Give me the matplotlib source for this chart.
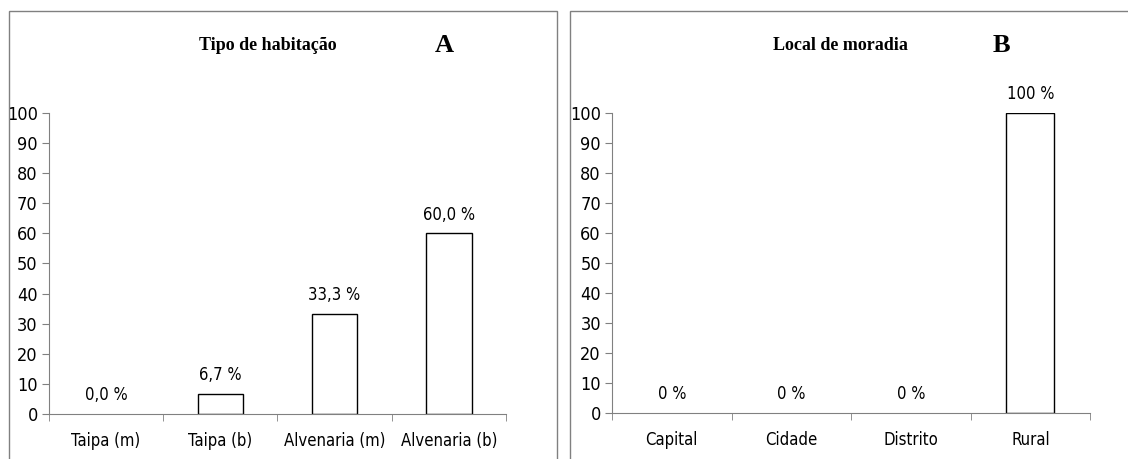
import matplotlib
matplotlib.use("Agg")
import matplotlib.pyplot as plt
from matplotlib.patches import Rectangle

# tipo de habitação (%)
hab_cats = ["Taipa (m)", "Taipa (b)", "Alvenaria (m)", "Alvenaria (b)"]
hab_vals = [0.0, 6.7, 33.3, 60.0]
hab_labels = ["0,0 %", "6,7 %", "33,3 %", "60,0 %"]

# local de moradia (%)
mor_cats = ["Capital", "Cidade", "Distrito", "Rural"]
mor_vals = [0, 0, 0, 100]
mor_labels = ["0 %", "0 %", "0 %", "100 %"]

yticks = list(range(0, 101, 10))

narrow = ["DejaVu Sans"]
serif = ["Liberation Serif", "DejaVu Serif"]
grey = "#808080"

fig = plt.figure(figsize=(11.28, 4.59), dpi=100)

def panel(rect, frame, cats, vals, labels, title, letter, title_x, letter_x):
    ax = fig.add_axes(rect)
    n = len(cats)
    xs = list(range(n))
    # no outline for empty bars so the baseline stays grey
    edges = ["black" if v > 0 else "none" for v in vals]
    ax.bar(xs, vals, width=0.4, color="white", edgecolor=edges, linewidth=1.0)
    for x, v, s in zip(xs, vals, labels):
        ax.annotate(s, (x, v), xytext=(0, 7), textcoords="offset points",
                    ha="center", va="bottom", fontsize=12, family=narrow,
                    fontstretch="condensed", annotation_clip=False)
    ax.set_xlim(-0.5, n - 0.5)
    ax.set_ylim(0, 100)
    ax.set_yticks(yticks)
    ax.set_yticklabels([str(t) for t in yticks], family=narrow, fontsize=13,
                       fontstretch="condensed")
    ax.set_xticks(xs)
    ax.set_xticklabels(cats, family=narrow, fontsize=12, fontstretch="condensed")
    ax.set_xticks([i - 0.5 for i in range(n + 1)], minor=True)
    ax.tick_params(axis="x", which="major", length=0, pad=13)
    ax.tick_params(axis="x", which="minor", length=5, color=grey, direction="out")
    ax.tick_params(axis="y", length=5, color=grey, direction="out", pad=3)
    for side in ("top", "right"):
        ax.spines[side].set_visible(False)
    for side in ("left", "bottom"):
        ax.spines[side].set_color(grey)
    fig.text(title_x, 0.9, title, ha="center", va="center", fontsize=13,
             fontweight="bold", family=serif)
    fig.text(letter_x, 0.9, letter, ha="center", va="center", fontsize=19,
             fontweight="bold", family=serif)
    fig.patches.append(Rectangle(frame[:2], frame[2], frame[3], transform=fig.transFigure,
                                 fill=False, edgecolor=grey, linewidth=1.0))
    return ax

panel([0.0434, 0.098, 0.4052, 0.656], (0.008, -0.05, 0.486, 1.026),
      hab_cats, hab_vals, hab_labels, "Tipo de habitação", "A", 0.237, 0.394)
panel([0.5426, 0.100, 0.4238, 0.654], (0.5053, -0.05, 0.52, 1.026),
      mor_cats, mor_vals, mor_labels, "Local de moradia", "B", 0.745, 0.888)

fig.savefig("out.png", dpi=100)
